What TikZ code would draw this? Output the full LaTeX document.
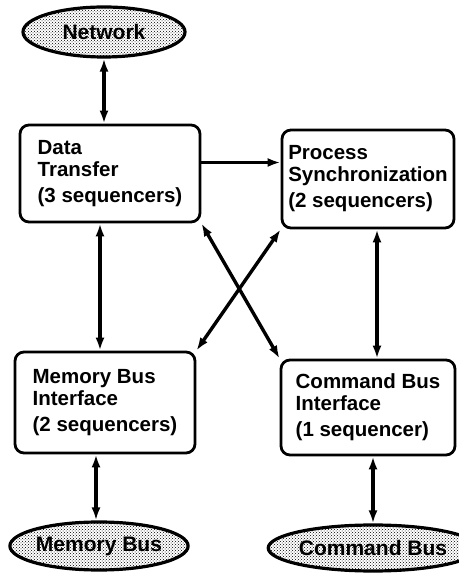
\documentclass[tikz,border=0pt]{standalone}
\usepackage{fontspec}
\setmainfont{Liberation Sans}
\usepackage{tikz}
\usetikzlibrary{arrows.meta,positioning,shapes.geometric,patterns}

\begin{document}
\begin{tikzpicture}[x=1pt, y=1pt,
    >={Latex[length=13pt,width=9pt]},
    every node/.append style={align=left, font=\fontsize{20.5}{22}\selectfont\bfseries},
    unit/.style={draw, line width=2.8pt, rounded corners=9pt, inner sep=0pt},
    bus/.style={draw, ellipse, line width=3.2pt, inner sep=0pt,
        pattern=crosshatch dots, pattern color=black,
        font=\fontsize{21}{23}\selectfont\bfseries},
    link/.style={<->, line width=3.4pt}]
    \useasboundingbox (0,0) rectangle (458,573);

    % interfaces
    \node [bus, minimum width=162pt, minimum height=50pt] (net) at (104,541) {Network};
    \node [unit, minimum width=180pt, minimum height=97pt] (dt) at (110,399.5)
        {Data\\Transfer\\[4pt](3 sequencers)};
    \node [unit, minimum width=172pt, minimum height=98pt] (ps) at (368,394)
        {Process\\Synchronization\\[4pt](2 sequencers)};
    \node [unit, minimum width=180pt, minimum height=101pt] (mbi) at (105,170.5)
        {Memory Bus\\Interface\\[4pt](2 sequencers)};
    \node [unit, minimum width=174pt, minimum height=95pt] (cbi) at (368,165.5)
        {Command Bus\\Interface\\[4pt](1 sequencer)};
    \node [bus, minimum width=168pt, minimum height=48pt] (mb) at (99,27) {Memory Bus};
    \node [bus, minimum width=164pt, minimum height=46pt] (cb) at (373,25) {Command Bus};

    \draw [link] (net.south) -- (net.south |- dt.north);
    \draw [->, line width=3.4pt] ([yshift=11pt]dt.east) -- ([yshift=11pt]dt.east -| ps.west);
    \draw [link] ([xshift=-10pt]dt.south) -- ([xshift=-10pt]dt.south |- mbi.north);
    \draw [link] ([xshift=9pt]ps.south) -- ([xshift=9pt]ps.south |- cbi.north);
    \draw [link] (dt.south east) -- (cbi.north west);
    \draw [link] (ps.south west) -- (mbi.north east);
    \draw [link] ([xshift=-3pt]mbi.south -| mb.north) -- ([xshift=-3pt]mb.north);
    \draw [link] (cbi.south -| cb.north) -- (cb.north);
\end{tikzpicture}
\end{document}
